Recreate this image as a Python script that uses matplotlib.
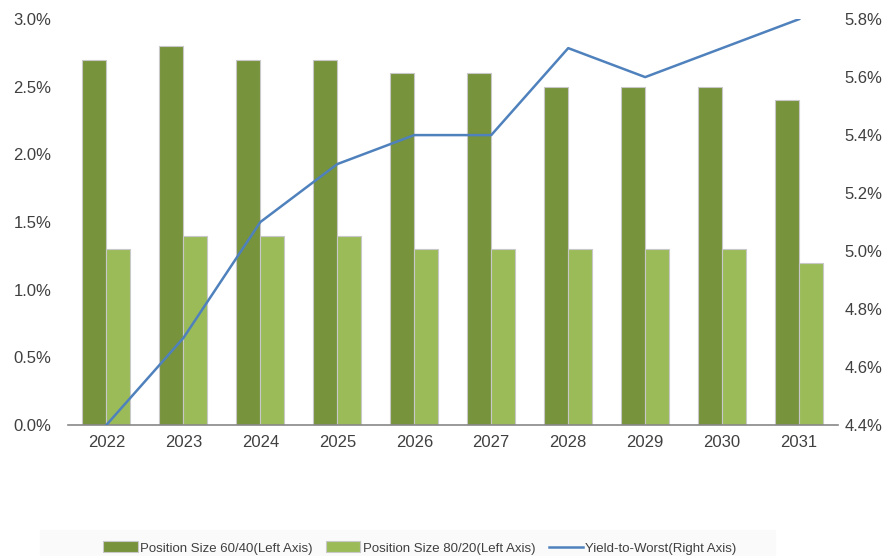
import matplotlib.pyplot as plt
import matplotlib.patches as mpatches
from matplotlib.ticker import FuncFormatter
import numpy as np

years = ["2022", "2023", "2024", "2025", "2026", "2027", "2028", "2029", "2030", "2031"]
size_60_40 = [2.7, 2.8, 2.7, 2.7, 2.6, 2.6, 2.5, 2.5, 2.5, 2.4]
size_80_20 = [1.3, 1.4, 1.4, 1.4, 1.3, 1.3, 1.3, 1.3, 1.3, 1.2]
ytw = [4.4, 4.7, 5.1, 5.3, 5.4, 5.4, 5.7, 5.6, 5.7, 5.8]

plt.rcParams['font.family'] = ['Liberation Sans', 'DejaVu Sans']

fig = plt.figure(figsize=(8.93, 5.56), dpi=100)
ax = fig.add_axes([0.076, 0.2356, 0.862, 0.730])
ax2 = ax.twinx()

x = np.arange(len(years))
w = 0.31
b1 = ax.bar(x - w / 2, size_60_40, w, color='#77933C', edgecolor='#c8c8c8', linewidth=0.8,
            label='Position Size 60/40(Left Axis)')
b2 = ax.bar(x + w / 2, size_80_20, w, color='#9BBB59', edgecolor='#c8c8c8', linewidth=0.8,
            label='Position Size 80/20(Left Axis)')
l1, = ax2.plot(x, ytw, color='#4F81BD', linewidth=1.8, label='Yield-to-Worst(Right Axis)')

ax.set_xlim(-0.5, len(years) - 0.5)
ax.set_ylim(0, 3.0)
ax.set_yticks(np.arange(0, 3.01, 0.5))
ax2.set_ylim(4.4, 5.8)
ax2.set_yticks(np.arange(4.4, 5.81, 0.2))
ax.yaxis.set_major_formatter(FuncFormatter(lambda v, p: f"{v:.1f}%"))
ax2.yaxis.set_major_formatter(FuncFormatter(lambda v, p: f"{v:.1f}%"))
ax.set_xticks(x)
ax.set_xticklabels(years)

for a in (ax, ax2):
    for s in ('top', 'left', 'right', 'bottom'):
        a.spines[s].set_visible(False)
    a.tick_params(length=0, labelsize=12, colors='#404040')
ax.spines['bottom'].set_visible(True)
ax.spines['bottom'].set_color('#888888')
ax.spines['bottom'].set_linewidth(1.2)
ax.tick_params(axis='x', pad=7)
ax.tick_params(axis='y', pad=12)
ax2.tick_params(axis='y', pad=5)

# faint legend band
fig.patches.append(mpatches.Rectangle((40 / 893, 0), 735 / 893, 26 / 556,
                                      transform=fig.transFigure, color='#fafafa', zorder=0))
fig.legend(handles=[b1, b2, l1], loc='center', bbox_to_anchor=(420 / 893, 1 - 548 / 556),
           ncol=3, frameon=False, fontsize=9.5, handlelength=2.6, handleheight=0.9,
           columnspacing=1.0, handletextpad=0.2, labelcolor='#404040')

fig.savefig('out.png', dpi=100)
